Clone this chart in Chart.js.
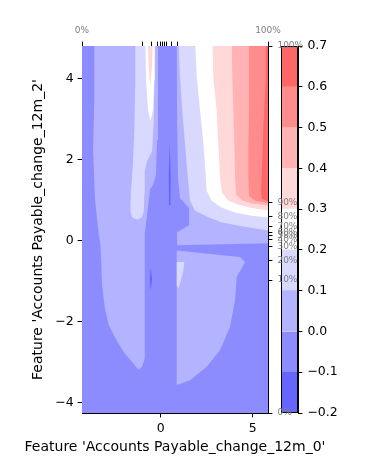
<!DOCTYPE html>
<html><head><meta charset="utf-8">
<script src="https://cdn.jsdelivr.net/npm/chart.js@4.4.0/dist/chart.umd.min.js"></script>
<style>
html,body{margin:0;padding:0;background:#fff;}
#wrap{position:relative;width:380px;height:469px;}
canvas{position:absolute;left:0;top:0;}
</style></head><body>
<div id="wrap"><canvas id="cb" width="380" height="469"></canvas><canvas id="main" width="380" height="469"></canvas></div>
<script>
// ---- axis ranges and ticks ----
const xRange = [-4.28, 5.83];
const yRange = [-4.25, 4.81];
const xTicks = [0, 5];
const xTickLabels = ['0', '5'];
const yTicks = [-4, -2, 0, 2, 4];
const yTickLabels = ['−4', '−2', '0', '2', '4'];
const xTitle = "Feature 'Accounts Payable_change_12m_0'";
const yTitle = "Feature 'Accounts Payable_change_12m_2'";
// percentile ticks of each feature
const xPctValues = [-4.28, -1.00, -0.49, -0.18, 0.00, 0.09, 0.20, 0.33, 0.56, 0.90, 5.83];
const xPctLabels = ['0%', '', '', '', '', '', '', '', '', '', '100%'];
const yPctValues = [-4.25, -0.97, -0.49, -0.15, 0.04, 0.12, 0.21, 0.36, 0.59, 0.95, 4.81];
const yPctLabels = ['0%', '10%', '20%', '30%', '40%', '50%', '60%', '70%', '80%', '90%', '100%'];
// contour levels and colour bar
const levels = [-0.2, -0.1, 0.0, 0.1, 0.2, 0.3, 0.4, 0.5, 0.6, 0.7];
const cbTicks = [-0.2, -0.1, 0.0, 0.1, 0.2, 0.3, 0.4, 0.5, 0.6, 0.7];
const cbTickLabels = ['−0.2', '−0.1', '0.0', '0.1', '0.2', '0.3', '0.4', '0.5', '0.6', '0.7'];
const bandColors = ['#6666ff', '#8c8cff', '#b3b3ff', '#d9d9ff', '#ffffff', '#ffd9d9', '#ffb3b3', '#ff8c8c', '#ff6666'];

// ---- contour regions (feature_0, feature_2) ----
const bandBase = [[-4.5, -4.5], [6, -4.5], [6, 5], [-4.5, 5]];
const dipNorth = [[0.49, 2.39], [0.54, 1.62], [0.53, 0.88], [0.45, 0.88], [0.43, 1.62]];
const dipSouth = [[-0.55, -0.67], [-0.47, -0.95], [-0.54, -1.22], [-0.60, -0.95]];
const geq0Left = [[-3.61, 5], [-3.61, 3.47], [-3.68, 2.24], [-3.57, 0.99], [-3.37, 0.17], [-3.28, -0.1], [-3.24, -0.43], [-3.19, -1.09], [-3.04, -1.66], [-2.83, -2.08], [-2.47, -2.40], [-2.01, -2.75], [-1.56, -2.99], [-1.20, -3.19], [-1.02, -3.11], [-0.87, -2.90], [-0.87, 0.17], [-0.57, 1.28], [-0.42, 1.38], [-0.26, 1.62], [-0.20, 2.49], [-0.15, 5]];
const geq0Right = [[0.87, 5], [0.87, 4.81], [0.89, 2.98], [0.94, 1.50], [1.05, 1.05], [1.54, 0.81], [1.54, 0.39], [0.89, 0.21], [0.89, -0.11], [6, -0.06], [6, 5]];
const geq0Lower = [[0.87, -0.24], [4.31, -0.40], [4.58, -0.52], [4.13, -0.89], [4.04, -1.46], [3.77, -2.12], [3.22, -2.70], [2.50, -3.11], [1.59, -3.44], [0.87, -3.56]];
const geq01Left = [[-1.38, 5], [-1.38, 4.04], [-1.43, 2.81], [-1.52, 1.82], [-1.63, 1.15], [-1.65, 0.74], [-1.56, 0.58], [-1.29, 0.52], [-1.02, 0.58], [-0.92, 0.74], [-0.89, 1.15], [-0.87, 1.73], [-0.74, 1.98], [-0.47, 2.22], [-0.38, 2.96], [-0.33, 4.04], [-0.33, 5]];
const geq01Right = [[0.96, 5], [1.05, 4.03], [1.17, 3.21], [1.32, 2.39], [1.47, 1.57], [1.59, 0.99], [1.86, 0.74], [2.59, 0.58], [3.32, 0.45], [4.40, 0.36], [6, 0.24], [6, 5]];
const geq01Lower = [[0.87, -0.52], [1.28, -0.52], [1.22, -0.75], [1.05, -1.05], [0.96, -1.17], [0.87, -1.10]];
const geq02Ridge = [[-0.84, 5], [-0.80, 3.97], [-0.69, 3.23], [-0.57, 2.96], [-0.42, 3.23], [-0.36, 3.97], [-0.33, 5]];
const geq02Right = [[1.86, 5], [1.96, 4.03], [2.14, 3.21], [2.32, 2.39], [2.45, 1.57], [2.50, 1.23], [2.77, 0.99], [3.32, 0.82], [4.04, 0.70], [4.95, 0.62], [6, 0.57], [6, 5]];
const geq03Ridge = [[-0.71, 5], [-0.66, 4.34], [-0.57, 3.79], [-0.47, 4.34], [-0.42, 5]];
const geq03Right = [[2.80, 5], [2.86, 4.03], [3.04, 3.21], [3.13, 2.39], [3.22, 1.57], [3.32, 1.20], [3.67, 0.99], [4.22, 0.89], [4.95, 0.81], [6, 0.74], [6, 5]];
const geq04Right = [[3.86, 5], [3.89, 4.03], [3.95, 3.21], [4.00, 2.39], [4.04, 1.57], [4.09, 1.15], [4.40, 1.00], [4.95, 0.92], [6, 0.86], [6, 5]];
const geq05Right = [[4.80, 5], [4.80, 3.21], [4.76, 2.39], [4.76, 1.57], [4.80, 1.11], [5.13, 0.99], [6, 0.92], [6, 5]];
const geq06Right = [[5.71, 5], [5.71, 4.03], [5.58, 2.80], [5.52, 1.98], [5.45, 1.15], [5.52, 1.03], [6, 0.95], [6, 5]];

// painter order: band index (into bandColors) for each region
const regions = [
  [1, bandBase], [0, dipNorth], [0, dipSouth],
  [2, geq0Left], [2, geq0Right], [2, geq0Lower],
  [3, geq01Left], [3, geq01Right], [3, geq01Lower],
  [4, geq02Ridge], [4, geq02Right],
  [5, geq03Ridge], [5, geq03Right],
  [6, geq04Right], [7, geq05Right], [8, geq06Right]
];

Chart.defaults.font.family = "'DejaVu Sans', sans-serif";
Chart.defaults.color = '#000';

const FONT = {size: 12.5};
const TFONT = {size: 14, weight: 'normal'};
const PFONT = {size: 9};
const GREY = '#7f7f7f';
const tickGrid = {drawOnChartArea: false, drawTicks: true, tickLength: 4.4, color: '#000', tickColor: '#000', tickWidth: 1};
const border = {display: true, color: '#000', width: 1};

const datasets = regions.map(([band, pts], i) => ({
  data: pts.map(([x, y]) => ({x, y})),
  backgroundColor: bandColors[band],
  borderColor: 'rgba(0,0,0,0)',
  borderWidth: 0,
  pointRadius: 0,
  pointHoverRadius: 0,
  tension: 0,
  fill: 'shape',
  order: regions.length - i
}));

new Chart(document.getElementById('main'), {
  type: 'line',
  data: {datasets},
  options: {
    responsive: false, animation: false, devicePixelRatio: 1,
    layout: {padding: {left: 0, top: 0, bottom: 0, right: 30}},
    plugins: {
      legend: {display: false}, tooltip: {enabled: false},
      title: {display: true, position: 'bottom', align: 'center', fullSize: true, text: xTitle, font: TFONT, color: '#000', padding: {top: 2, bottom: 13.6}}
    },
    events: [],
    scales: {
      x: {
        type: 'linear', position: 'bottom', min: xRange[0], max: xRange[1],
        afterBuildTicks: s => { s.ticks = xTicks.map(v => ({value: v})); },
        afterFit: s => { s.height = 23.6; },
        ticks: {callback: (v, i) => xTickLabels[i], font: FONT, color: '#000', padding: 4, maxRotation: 0, autoSkip: false},
        grid: tickGrid, border
      },
      y: {
        type: 'linear', position: 'left', min: yRange[0], max: yRange[1],
        afterBuildTicks: s => { s.ticks = yTicks.map(v => ({value: v})); },
        afterFit: s => { s.width = 82; },
        ticks: {callback: (v, i) => yTickLabels[i], font: FONT, color: '#000', padding: 4, autoSkip: false},
        grid: tickGrid, border,
        title: {display: true, text: yTitle, font: TFONT, color: '#000', padding: {top: 29.6, bottom: 0}}
      },
      x2: {
        type: 'linear', position: 'top', min: xRange[0], max: xRange[1],
        afterBuildTicks: s => { s.ticks = xPctValues.map(v => ({value: v})); },
        afterFit: s => { s.height = 46; },
        ticks: {callback: (v, i) => xPctLabels[i], font: PFONT, color: GREY, padding: 5.5, maxRotation: 0, autoSkip: false},
        grid: tickGrid, border
      },
      y2: {
        type: 'linear', position: 'right', min: yRange[0], max: yRange[1],
        afterBuildTicks: s => { s.ticks = yPctValues.map(v => ({value: v})); },
        afterFit: s => { s.width = 82; },
        ticks: {callback: (v, i) => yPctLabels[i], font: PFONT, color: GREY, padding: 5, autoSkip: false},
        grid: tickGrid, border
      }
    }
  }
});

const framePlugin = {
  id: 'frame',
  afterDraw(chart) {
    const {ctx, chartArea: a} = chart;
    ctx.save();
    ctx.strokeStyle = '#000';
    ctx.lineWidth = 1;
    ctx.strokeRect(Math.round(a.left) + 0.5, Math.round(a.top) + 0.5, Math.round(a.right - a.left) - 1, Math.round(a.bottom - a.top) - 1);
    ctx.restore();
  }
};

new Chart(document.getElementById('cb'), {
  type: 'bar',
  data: {
    labels: [''],
    datasets: bandColors.map((c, i) => ({
      data: [[levels[i], levels[i + 1]]],
      backgroundColor: c, borderWidth: 0,
      barPercentage: 1, categoryPercentage: 1, grouped: false
    }))
  },
  options: {
    responsive: false, animation: false, devicePixelRatio: 1,
    layout: {padding: {left: 281, top: 46, bottom: 56, right: 0}},
    plugins: {legend: {display: false}, tooltip: {enabled: false}},
    events: [],
    scales: {
      x: {display: false},
      y: {
        type: 'linear', position: 'right', min: levels[0], max: levels[levels.length - 1],
        afterBuildTicks: s => { s.ticks = cbTicks.map(v => ({value: v})); },
        afterFit: s => { s.width = 82; },
        ticks: {callback: (v, i) => cbTickLabels[i], font: FONT, color: '#000', padding: 5, autoSkip: false},
        grid: tickGrid, border
      }
    }
  },
  plugins: [framePlugin]
});
</script></body></html>
